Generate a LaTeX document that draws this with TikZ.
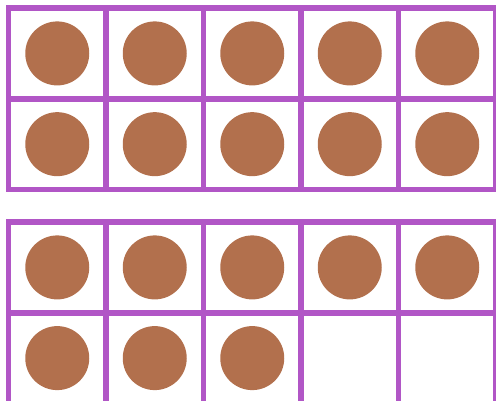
\documentclass[tikz,border=0pt]{standalone}
\usepackage{tikz}

\definecolor{framepurple}{RGB}{177,86,198}
\definecolor{counterbrown}{RGB}{178,112,77}

\begin{document}
\begin{tikzpicture}[x=1pt,y=-1pt,
  frame/.style={draw=framepurple, line width=5.5pt},
  counter/.style={fill=counterbrown}]
  \useasboundingbox (0,0) rectangle (496,400);
  \clip (0,0) rectangle (496,400);
  % first ten-frame: all ten counters
  \foreach \r in {0,1}
    \foreach \c in {0,...,4} {
      \draw[frame] (8.5+97.5*\c,8+90.75*\r) rectangle ++(97.5,90.75);
      \fill[counter] (57.25+97.5*\c,53.4+90.75*\r) circle[radius=32pt];
    }
  % second ten-frame: eight counters
  \foreach \r in {0,1}
    \foreach \c in {0,...,4}
      \draw[frame] (8.5+97.5*\c,222+90.75*\r) rectangle ++(97.5,90.75);
  \foreach \c in {0,...,4}
    \fill[counter] (57.25+97.5*\c,267.4) circle[radius=32pt];
  \foreach \c in {0,1,2}
    \fill[counter] (57.25+97.5*\c,358.1) circle[radius=32pt];
\end{tikzpicture}
\end{document}
